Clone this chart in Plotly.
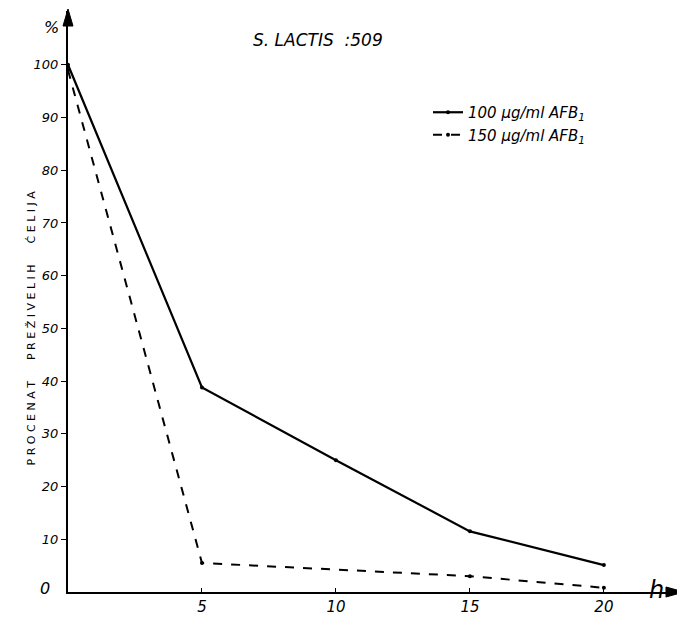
import plotly.graph_objects as go

hours = [0, 5, 10, 15, 20]
surv_100 = [100, 38.8, 25, 11.5, 5.1]
hours_150 = [0, 5, 15, 20]
surv_150 = [99, 5.5, 3, 0.8]
y_ticks = [10, 20, 30, 40, 50, 60, 70, 80, 90, 100]
x_ticks = [5, 10, 15, 20]

FONT = "DejaVu Sans"
PW, PH = 612, 581  # plot area in pixels

fig = go.Figure()
fig.add_trace(go.Scatter(x=hours, y=surv_100, mode="lines+markers",
                         line=dict(color="black", width=2.2),
                         marker=dict(size=4, color="black"),
                         name="<i>100 µg/ml AFB<sub>1</sub></i>"))
fig.add_trace(go.Scatter(x=hours_150, y=surv_150, mode="lines+markers",
                         line=dict(color="black", width=2, dash="dash"),
                         marker=dict(size=4, color="black"),
                         name="<i>150 µg/ml AFB<sub>1</sub></i>"))

fig.update_layout(
    width=677, height=616,
    margin=dict(l=60, r=5, t=3, b=32),
    plot_bgcolor="white", paper_bgcolor="white",
    font=dict(family=FONT, size=13, color="black"),
    showlegend=True,
    legend=dict(x=(428 - 68) / PW, y=(592 - 96) / PH, xanchor="left", yanchor="top",
                bgcolor="rgba(0,0,0,0)", font=dict(size=15, family=FONT),
                tracegroupgap=0),
    xaxis=dict(range=[0, 22.84], tickvals=x_ticks,
               ticktext=["<i>%d</i>" % v for v in x_ticks],
               showline=True, linecolor="black", linewidth=2, ticks="inside",
               ticklen=4, tickcolor="black", showgrid=False, zeroline=False,
               tickfont=dict(size=15, family=FONT)),
    yaxis=dict(range=[0, 110.2], tickvals=y_ticks,
               ticktext=["<i>%d</i>" % v for v in y_ticks],
               showline=True, linecolor="black", linewidth=2, ticks="outside",
               ticklen=5, tickcolor="black", showgrid=False, zeroline=False,
               tickfont=dict(size=13, family=FONT)),
)

def px(x):
    return (x - 68) / PW

def py(y):
    return (592 - y) / PH

fig.add_annotation(text="<i>S. LACTIS  :509</i>", xref="paper", yref="paper",
                   x=px(318), y=py(28), showarrow=False, font=dict(size=17, family=FONT))
fig.add_annotation(text="<i>%</i>", xref="paper", yref="paper",
                   x=px(42), y=py(16), showarrow=False, font=dict(size=16, family=FONT))
fig.add_annotation(text="<i>h</i>", xref="paper", yref="paper",
                   x=px(666), y=py(606), showarrow=False, font=dict(size=24, family=FONT))
fig.add_annotation(text="<i>0</i>", xref="paper", yref="paper",
                   x=px(38), y=py(600), showarrow=False, font=dict(size=16, family=FONT))
fig.add_annotation(text="P R O C E N A T      P R E Ž I V E L I H      Ć E L I J A",
                   xref="paper", yref="paper",
                   x=px(22), y=py(328), showarrow=False, textangle=-90,
                   font=dict(size=11, family=FONT))

# axis arrow heads (decorations, in paper coordinates)
fig.add_shape(type="path", xref="paper", yref="paper",
              path="M %f %f L %f %f L %f %f Z" % (px(63), py(26), px(68), py(9), px(73), py(26)),
              fillcolor="black", line=dict(color="black", width=1))
fig.add_shape(type="path", xref="paper", yref="paper",
              path="M %f %f L %f %f L %f %f Z" % (px(666), py(587), px(684), py(592), px(666), py(597)),
              fillcolor="black", line=dict(color="black", width=1))

fig.write_html("out.html")
